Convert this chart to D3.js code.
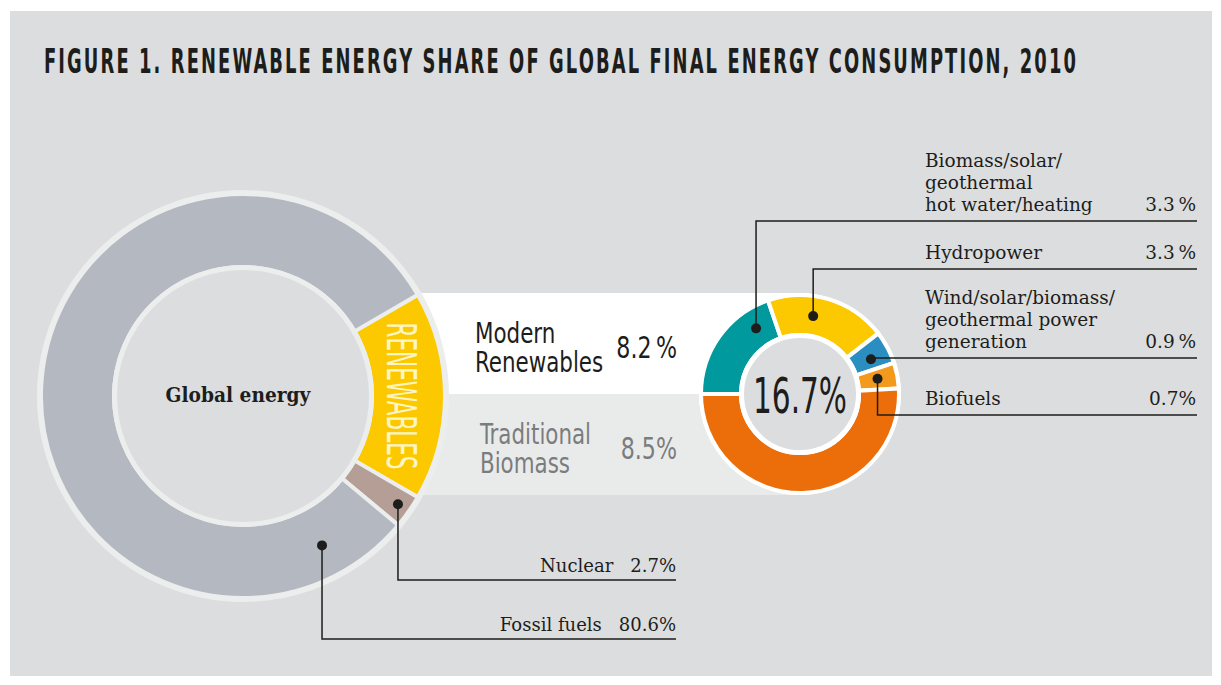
<!DOCTYPE html>
<html>
<head>
<meta charset="utf-8">
<title>Renewable energy share of global final energy consumption, 2010</title>
<style>
body { margin: 0; background: #fff; }
.cond {
  font-family: "DejaVu Sans Condensed", "Liberation Sans Narrow", "Roboto Condensed", sans-serif;
  font-stretch: condensed;
}
.serif {
  font-family: "DejaVu Serif", "Liberation Serif", serif;
  fill: #1d1d1b;
}
path.leader {
  fill: none;
  stroke: #1d1d1b;
  stroke-width: 1.5px;
}
</style>
</head>
<body>
<script src="https://d3js.org/d3.v7.min.js"></script>
<script>

// outer donut: global final energy consumption
var globalCategories = ["Renewables", "Nuclear", "Fossil fuels"];
var globalValues = [16.7, 2.7, 80.6];

// inner donut: breakdown of the renewables share
var renewableCategories = ["Biomass/solar/geothermal hot water/heating", "Hydropower",
  "Wind/solar/biomass/geothermal power generation", "Biofuels", "Traditional Biomass"];
var renewableValues = [3.3, 3.3, 0.9, 0.7, 8.5];
var renewableLabelLines = [
  ["Biomass/solar/", "geothermal", "hot water/heating"],
  ["Hydropower"],
  ["Wind/solar/biomass/", "geothermal power", "generation"],
  ["Biofuels"],
  null
];

// modern vs traditional
var groupCategories = [["Modern", "Renewables"], ["Traditional", "Biomass"]];
var groupValues = [8.2, 8.5];

var width = 1221,
    height = 685;

var ink = "#1d1d1b",
    panel = "#dcdddf",
    ringLight = "#eceeee";

var globalColors = ["#fcc800", "#b59e96", "#b4b8c1"];
var renewableColors = ["#00999e", "#fcc800", "#2a8ec0", "#f39a1e", "#ec6e0b"];

var big = {cx: 243, cy: 396, r0: 131, r1: 200, ring: 6, disk: 126};
var small = {cx: 800, cy: 394, r0: 61, r1: 97, ring: 4, disk: 56};

// squeeze a text horizontally to k of its natural width
function condense(sel, k) {
  sel.each(function() {
    var w = this.getComputedTextLength();
    d3.select(this)
        .attr("textLength", w * k)
        .attr("lengthAdjust", "spacingAndGlyphs");
  });
  return sel;
}

var svg = d3.select("body").append("svg")
    .attr("width", width)
    .attr("height", height);

svg.append("rect")
    .attr("x", 10).attr("y", 11)
    .attr("width", 1202).attr("height", 665)
    .attr("fill", panel);

svg.append("text")
    .attr("class", "cond")
    .attr("x", 44).attr("y", 73)
    .attr("textLength", 1034)
    .attr("lengthAdjust", "spacingAndGlyphs")
    .style("font-size", "33px")
    .style("font-weight", "bold")
    .style("letter-spacing", "3.5px")
    .style("fill", ink)
    .text("FIGURE 1. RENEWABLE ENERGY SHARE OF GLOBAL FINAL ENERGY CONSUMPTION, 2010");

// bands linking both donuts
var bandTop = small.cy - small.r1 - small.ring;
var bandH = small.r1 + small.ring;
svg.append("rect")
    .attr("x", big.cx).attr("y", bandTop)
    .attr("width", small.cx - big.cx).attr("height", bandH)
    .attr("fill", "#ffffff");
svg.append("rect")
    .attr("x", big.cx).attr("y", small.cy)
    .attr("width", small.cx - big.cx).attr("height", bandH)
    .attr("fill", "#e9ebea");

// ---- big donut
var renewShare = globalValues[0] / d3.sum(globalValues) * 2 * Math.PI;
var bigPie = d3.pie().sort(null)
    .startAngle(Math.PI / 2 - renewShare / 2)
    .endAngle(Math.PI / 2 - renewShare / 2 + 2 * Math.PI);
var bigArcs = bigPie(globalValues);

var gBig = svg.append("g")
    .attr("transform", "translate(" + big.cx + "," + big.cy + ")");

gBig.append("circle")
    .attr("r", big.r1 + big.ring)
    .attr("fill", ringLight);

var bigArc = d3.arc().innerRadius(big.r0 - 2).outerRadius(big.r1 + 2);
gBig.selectAll("path.slice")
    .data(bigArcs)
    .enter().append("path")
    .attr("class", "slice")
    .attr("d", bigArc)
    .attr("fill", function(d, i) { return globalColors[i]; })
    .attr("stroke", ringLight)
    .attr("stroke-width", 4);

gBig.append("circle")
    .attr("r", (big.disk + big.r0) / 2)
    .attr("fill", panel)
    .attr("stroke", ringLight)
    .attr("stroke-width", big.r0 - big.disk);

condense(gBig.append("text")
    .attr("class", "serif")
    .attr("x", -5)
    .attr("y", 6)
    .attr("text-anchor", "middle")
    .style("font-size", "20px")
    .style("font-weight", "bold")
    .text("Global energy"), 0.93);

// vertical label on the renewables slice
var midA = (bigArcs[0].startAngle + bigArcs[0].endAngle) / 2;
var rLab = 158;
gBig.append("text")
    .attr("class", "cond")
    .attr("transform", "translate(" + (rLab * Math.sin(midA)) + "," + (-rLab * Math.cos(midA)) + ") rotate(90)")
    .attr("text-anchor", "middle")
    .attr("dy", "0.36em")
    .attr("textLength", 147)
    .attr("lengthAdjust", "spacingAndGlyphs")
    .style("font-size", "40px")
    .style("fill", "#fff5c4")
    .text(globalCategories[0].toUpperCase());

// ---- small donut
var smallPie = d3.pie().sort(null)
    .startAngle(1.5 * Math.PI)
    .endAngle(3.5 * Math.PI);
var smallArcs = smallPie(renewableValues);

var gSmall = svg.append("g")
    .attr("transform", "translate(" + small.cx + "," + small.cy + ")");

gSmall.append("circle")
    .attr("r", small.r1 + small.ring)
    .attr("fill", "#ffffff");

var smallArc = d3.arc().innerRadius(small.r0 - 2).outerRadius(small.r1 + 2);
gSmall.selectAll("path.slice")
    .data(smallArcs)
    .enter().append("path")
    .attr("class", "slice")
    .attr("d", smallArc)
    .attr("fill", function(d, i) { return renewableColors[i]; })
    .attr("stroke", "#ffffff")
    .attr("stroke-width", 4);

gSmall.append("circle")
    .attr("r", (small.disk + small.r0) / 2)
    .attr("fill", panel)
    .attr("stroke", "#ffffff")
    .attr("stroke-width", small.r0 - small.disk);

gSmall.append("text")
    .attr("class", "cond")
    .attr("y", 19)
    .attr("text-anchor", "middle")
    .attr("textLength", 94)
    .attr("lengthAdjust", "spacingAndGlyphs")
    .style("font-size", "50px")
    .style("fill", ink)
    .text(d3.format(".1f")(d3.sum(renewableValues)) + "%");

// ---- modern / traditional text in the bands
var groupFill = [ink, "#7b7c7e"];
var groupX = [475, 480];
var groupSep = ["\u2009%", "%"];
groupCategories.forEach(function(lines, i) {
  var base = bandTop + 50 + i * bandH;
  lines.forEach(function(s, j) {
    condense(svg.append("text")
        .attr("class", "cond")
        .attr("x", groupX[i])
        .attr("y", base + j * 29)
        .style("font-size", "29px")
        .style("fill", groupFill[i])
        .text(s), 0.82);
  });
  condense(svg.append("text")
      .attr("class", "cond")
      .attr("x", 677)
      .attr("y", base + 15)
      .attr("text-anchor", "end")
      .style("font-size", "30px")
      .style("fill", groupFill[i])
      .text(d3.format(".1f")(groupValues[i]) + groupSep[i]), 0.82);
});

// ---- leaders for the small donut
function polar(a, r) { return [r * Math.sin(a), -r * Math.cos(a)]; }

var smallLineY = [221, 269, 358, 415];
var smallDotPos = [0.79, 0.40, 0.6, 0.48];
var smallSep = ["\u2009%", "\u2009%", "\u2009%", "%"];
var labelRight = 1197;

smallArcs.slice(0, 4).forEach(function(d, i) {
  var a = d.startAngle + (d.endAngle - d.startAngle) * smallDotPos[i];
  var p = polar(a, (small.r0 + small.r1) / 2);
  var x = small.cx + p[0], y = small.cy + p[1];
  svg.append("path")
      .attr("class", "leader")
      .attr("d", "M" + x + "," + y + "V" + smallLineY[i] + "H" + labelRight);
  svg.append("circle")
      .attr("cx", x).attr("cy", y).attr("r", 5)
      .attr("fill", ink);
  var lines = renewableLabelLines[i];
  lines.forEach(function(s, j) {
    svg.append("text")
        .attr("class", "serif")
        .attr("x", 925)
        .attr("y", smallLineY[i] - 10 - (lines.length - 1 - j) * 22)
        .style("font-size", "18.5px")
        .text(s);
  });
  svg.append("text")
      .attr("class", "serif")
      .attr("x", labelRight - 1)
      .attr("y", smallLineY[i] - 10)
      .attr("text-anchor", "end")
      .style("font-size", "18.5px")
      .text(d3.format(".1f")(d.value) + smallSep[i]);
});

// ---- leaders for the big donut
var bigLineY = [null, 580, 639];
var bigDotPos = [null, 0.5, 0.077];
var bigDotR = [null, 189, 169];
var bigRight = 676;

[1, 2].forEach(function(i) {
  var d = bigArcs[i];
  var a = d.startAngle + (d.endAngle - d.startAngle) * bigDotPos[i];
  var p = polar(a, bigDotR[i]);
  var x = big.cx + p[0], y = big.cy + p[1];
  svg.append("path")
      .attr("class", "leader")
      .attr("d", "M" + x + "," + y + "V" + bigLineY[i] + "H" + bigRight);
  svg.append("circle")
      .attr("cx", x).attr("cy", y).attr("r", 5)
      .attr("fill", ink);
  var v = svg.append("text")
      .attr("class", "serif")
      .attr("x", bigRight)
      .attr("y", bigLineY[i] - 8)
      .attr("text-anchor", "end")
      .style("font-size", "18px")
      .text(d3.format(".1f")(d.value) + "%");
  svg.append("text")
      .attr("class", "serif")
      .attr("x", bigRight - v.node().getComputedTextLength() - 17)
      .attr("y", bigLineY[i] - 8)
      .attr("text-anchor", "end")
      .style("font-size", "18px")
      .text(globalCategories[i]);
});

</script>
</body>
</html>
